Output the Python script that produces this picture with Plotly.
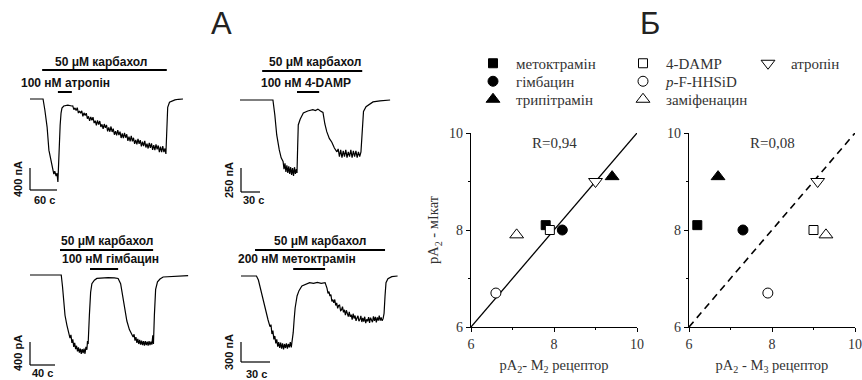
import plotly.graph_objects as go

W, H = 862, 380

# ---------------- Panel A: membrane current traces (time, s ; current, pA) -------------
atr_t = [0, 29, 33, 38, 42, 47, 51, 53, 55, 58, 60, 62, 63, 64, 67, 69, 71, 75, 84, 93,
         95, 97.5, 100, 102.5, 105, 107.5, 110, 112.5, 115, 117.5,
         120, 122.5, 125, 127.5, 130, 132.5, 135, 137.5, 140, 142.5,
         145, 147.5, 150, 152.5, 155, 157.5, 160, 162.5, 165, 167.5,
         170, 172.5, 175, 177.5, 180, 182.5, 185, 187.5, 190, 192.5,
         195, 197.5, 200, 202.5, 205, 207.5, 210, 212.5, 215, 217.5,
         220, 222.5, 225, 227.5, 230, 232.5, 235, 237.5, 240, 242.5,
         245, 247.5, 250, 252.5, 255, 257.5, 260, 262.5, 265, 267.5,
         270, 272.5, 275, 277.5, 280, 282.5, 285, 287.5, 290, 292.5,
         295, 297.5, 300,
         302, 304, 306, 310, 315, 322, 330, 340]
atr_i = [0, 0, -200, -510, -930, -1165, -1290, -1365, -1310, -1400, -1350, -1510, -1290, -930,
         -475, -255, -165, -127, -110, -127,
         -125, -193, -162, -210, -158, -256, -219, -257, -215, -314,
         -252, -300, -258, -357, -315, -397, -325, -387, -330, -437,
         -395, -477, -390, -467, -400, -507, -460, -545, -455, -525,
         -470, -590, -515, -595, -500, -600, -540, -650, -585, -660,
         -565, -655, -595, -709, -627, -711, -615, -704, -642, -761,
         -685, -769, -672, -771, -705, -814, -742, -826, -725, -817,
         -748, -860, -777, -858, -760, -882, -813, -900, -797, -888,
         -805, -926, -837, -928, -823, -914, -845, -966, -867, -968,
         -858, -964, -900,
         -1000, -600, -150, -60, -35, -15, -5, 0]

damp_t = [0, 52, 55, 58, 62, 65, 68, 69.5, 71, 72.5, 74, 75.5, 77, 78.5, 80, 81.5, 83, 84.5,
          86, 87.5, 89, 90, 91, 92, 95, 100, 107, 115, 119, 123, 127, 131, 134, 137, 141, 145,
          149, 153, 155, 157, 159, 161, 163, 165, 167, 169, 171, 173, 175, 177, 179, 181, 183,
          185, 187, 189, 191, 193, 195, 199, 205, 210, 221, 237]
damp_i = [0, 0, -156, -364, -520, -603, -640, -720, -660, -750, -680, -760, -690, -770, -700,
          -780, -710, -790, -700, -770, -720, -760, -500, -260, -200, -135, -115, -100, -110,
          -95, -115, -130, -250, -330, -400, -440, -500, -540, -510, -590, -520, -600, -530,
          -590, -520, -600, -540, -590, -520, -600, -530, -590, -530, -600, -540, -590, -540,
          -300, -120, -70, -40, -20, -10, 0]

himb_t = [0, 50, 52, 54, 56, 59, 62, 64, 65.5, 67, 68.5, 70, 71.5, 73, 74.5, 76, 77.5, 79,
          80.5, 82, 83.5, 85, 86.5, 88, 89.5, 91, 92, 93, 95, 97, 99, 103, 107, 115, 125, 135,
          141, 145, 149, 152, 155, 159, 162, 165, 166.5, 168, 169.5, 171, 172.5, 174, 175.5,
          177, 178.5, 180, 181.5, 183, 184.5, 186, 187.5, 189, 190.5, 192, 193.5, 195, 196.5,
          197.5, 199, 201, 204, 208, 213, 230, 253]
himb_i = [0, 0, -200, -500, -700, -870, -1000, -1096, -1040, -1180, -1120, -1250, -1180, -1290,
          -1230, -1330, -1260, -1350, -1280, -1370, -1290, -1360, -1280, -1370, -1250, -1300,
          -1150, -1200, -700, -300, -150, -90, -60, -50, -45, -50, -60, -150, -400, -620, -800,
          -950, -1010, -1080, -1030, -1140, -1080, -1180, -1110, -1200, -1130, -1210, -1140,
          -1220, -1150, -1230, -1150, -1220, -1160, -1230, -1150, -1220, -1160, -1210, -1050,
          -1200, -700, -250, -120, -70, -35, -20, -10]

meto_t = [0, 16, 18, 20, 22, 24, 26, 28, 30, 31, 32, 33, 34, 35, 36, 37, 38, 39, 40, 41, 42,
          43, 44, 45, 46, 47, 48, 49, 50, 51, 52, 53, 54, 55, 56, 58, 60, 63, 67, 71, 75, 79,
          83, 87,
          89, 90, 91, 92, 93, 94, 95, 96, 97, 98, 99, 100, 101, 102, 103, 104, 105, 106, 107,
          108, 109, 110, 111, 112, 113, 114, 115, 116, 117, 118, 119, 120, 121, 122, 123, 124,
          125, 126, 127, 128, 129, 130, 131, 132, 133, 134, 135, 136, 137, 138, 139, 140, 141,
          142, 143, 144, 145, 146,
          147, 148, 149, 150, 152, 156, 162]
meto_i = [0, 0, -60, -180, -330, -420, -560, -660, -760, -730, -870, -820, -950, -900, -1010,
          -950, -1060, -990, -1080, -1000, -1090, -1010, -1100, -1020, -1080, -1010, -1090,
          -1020, -1070, -990, -1070, -980, -850, -650, -480, -300, -220, -150, -120, -100, -110,
          -95, -110, -100,
          -185, -260, -235, -300, -280, -380, -355, -401, -352, -443, -404, -485, -443, -436,
          -519, -507, -460, -546, -507, -588, -514, -565, -609, -538, -612, -581, -655, -566,
          -637, -593, -674, -630, -598, -676, -654, -597, -690, -627, -684, -611, -708, -650,
          -679, -618, -702, -626, -670, -693, -606, -674, -612, -695, -622, -669, -596, -668,
          -620, -673,
          -640, -560, -300, -100, -40, -10, 0]

# drug application periods (s): carbachol and antagonist
carb_on = [27, 35, 48, 14.5]
carb_off = [304, 193, 197, 149]
antag_on = [62, 90, 96, 54]
antag_off = [93, 125, 141, 87]
carb_label = ["50 μM карбахол"] * 4
antag_label = ["100 нМ атропін", "100 нМ 4-DAMP", "100 нМ гімбацин", "200 нМ метоктрамін"]

# scale bars
scale_t = [60, 30, 40, 30]
scale_i = [400, 250, 400, 300]
scale_t_label = ["60 с", "30 с", "40 с", "30 с"]
scale_i_label = ["400 пА", "250 пА", "400 pA", "300 пА"]

# ---------------- Panel Б: pA2 values ----------------
drugs = ["метоктрамін", "гімбацин", "трипітрамін", "4-DAMP", "<i>p</i>-F-HHSiD",
         "заміфенацин", "атропін"]
pa2_m2 = [7.8, 8.2, 9.4, 7.9, 6.6, 7.1, 9.0]
pa2_m3 = [6.2, 7.3, 6.7, 9.0, 7.9, 9.3, 9.1]
pa2_mcat = [8.1, 8.0, 9.1, 8.0, 6.7, 7.9, 9.0]
fit_x = [6, 10]
fit_y = [6, 10]
r_values = ["R=0,94", "R=0,08"]
x_titles = ["pA<sub>2</sub>- M<sub>2</sub> рецептор", "pA<sub>2</sub> - M<sub>3</sub> рецептор"]
y_title = "pA<sub>2</sub> - мІкат"

# ---------------- styles / layout ----------------
SANS = "Liberation Sans, Arial, sans-serif"
SERIF = "Liberation Serif, Times New Roman, serif"

def pxx(x):
    return x / W

def pxy(y):
    return 1 - y / H

fig = go.Figure()

traces = [(atr_t, atr_i), (damp_t, damp_i), (himb_t, himb_i), (meto_t, meto_i)]
# pixel geometry of each trace panel: domain box, pixel of (t=0, I=0), s/px, pA/px
geom = [
    dict(xd=(10, 195), yd=(55, 210), x0=30, y0=99, spp=60 / 27, ppp=400 / 22,
         carb_y=70, ant_y=92, carb_lbl=(101, 62), ant_lbl=(65, 83),
         sb=(30, 190), sbi_lbl=(18, 179), sbt_lbl=(44, 200)),
    dict(xd=(225, 400), yd=(55, 210), x0=240, y0=100, spp=30 / 19, ppp=250 / 24,
         carb_y=71, ant_y=92, carb_lbl=(315, 62), ant_lbl=(306, 83),
         sb=(241, 192), sbi_lbl=(229, 180), sbt_lbl=(254, 200)),
    dict(xd=(10, 195), yd=(232, 380), x0=30, y0=275, spp=40 / 25, ppp=400 / 23,
         carb_y=250, ant_y=269, carb_lbl=(107, 241), ant_lbl=(110, 259),
         sb=(30, 365), sbi_lbl=(18, 353), sbt_lbl=(42, 373)),
    dict(xd=(225, 400), yd=(232, 380), x0=241, y0=276, spp=30 / 29, ppp=15,
         carb_y=250, ant_y=269, carb_lbl=(320, 241), ant_lbl=(297, 259),
         sb=(241, 362), sbi_lbl=(229, 352), sbt_lbl=(256, 374)),
]

shapes = []
annotations = []
layout_axes = {}


def ann(text, x, y, font, angle=0):
    annotations.append(dict(text=text, x=pxx(x), y=pxy(y), xref="paper", yref="paper",
                            showarrow=False, font=font, textangle=angle,
                            xanchor="center", yanchor="middle"))


for k, ((t, cur), g) in enumerate(zip(traces, geom)):
    n = k + 1
    xa = "x" if n == 1 else f"x{n}"
    ya = "y" if n == 1 else f"y{n}"
    t_lo = (g["xd"][0] - g["x0"]) * g["spp"]
    t_hi = (g["xd"][1] - g["x0"]) * g["spp"]
    i_lo = (g["y0"] - g["yd"][1]) * g["ppp"]
    i_hi = (g["y0"] - g["yd"][0]) * g["ppp"]
    layout_axes["xaxis" if n == 1 else f"xaxis{n}"] = dict(
        domain=[pxx(g["xd"][0]), pxx(g["xd"][1])], range=[t_lo, t_hi], visible=False,
        anchor=ya, automargin=False)
    layout_axes["yaxis" if n == 1 else f"yaxis{n}"] = dict(
        domain=[pxy(g["yd"][1]), pxy(g["yd"][0])], range=[i_lo, i_hi], visible=False,
        anchor=xa, automargin=False)
    fig.add_trace(go.Scatter(x=t, y=cur, mode="lines", xaxis=xa, yaxis=ya,
                             line=dict(color="black", width=1.2), showlegend=False,
                             hoverinfo="skip"))
    # application bars
    shapes.append(dict(type="line", xref=xa, yref="paper", x0=carb_on[k], x1=carb_off[k],
                       y0=pxy(g["carb_y"]), y1=pxy(g["carb_y"]),
                       line=dict(color="black", width=2)))
    shapes.append(dict(type="line", xref=xa, yref="paper", x0=antag_on[k], x1=antag_off[k],
                       y0=pxy(g["ant_y"]), y1=pxy(g["ant_y"]),
                       line=dict(color="black", width=2)))
    # scale bars
    st0 = (g["sb"][0] - g["x0"]) * g["spp"]
    si0 = (g["y0"] - g["sb"][1]) * g["ppp"]
    shapes.append(dict(type="line", xref=xa, yref=ya, x0=st0, x1=st0 + scale_t[k],
                       y0=si0, y1=si0, line=dict(color="black", width=1.2)))
    shapes.append(dict(type="line", xref=xa, yref=ya, x0=st0, x1=st0,
                       y0=si0, y1=si0 + scale_i[k], line=dict(color="black", width=1.2)))
    bold = dict(family=SANS, size=12, color="#111")
    small = dict(family=SANS, size=11, color="#111")
    ann("<b>" + carb_label[k] + "</b>", *g["carb_lbl"], bold)
    ann("<b>" + antag_label[k] + "</b>", *g["ant_lbl"], bold)
    ann("<b>" + scale_i_label[k] + "</b>", *g["sbi_lbl"], small, angle=-90)
    ann("<b>" + scale_t_label[k] + "</b>", *g["sbt_lbl"], small)

# ---- scatter panels ----
symbols = ["square", "circle", "triangle-up", "square", "circle", "triangle-up", "triangle-down"]
fills = ["black", "black", "black", "white", "white", "white", "white"]
sizes = [9, 10, 12, 9, 10, 12, 12]
# legend key positions (marker centre, px)
legend_pos = [(495, 65), (495, 83), (495, 101), (645, 65), (645, 83), (645, 101), (770, 65)]
legend_names = ["legend"] + [f"legend{i}" for i in range(2, 8)]

sc_boxes = [((471, 637), (133, 327)), ((689, 855), (133, 327))]
for j, (xs, (xd, yd)) in enumerate(zip([pa2_m2, pa2_m3], sc_boxes)):
    n = 5 + j
    xa, ya = f"x{n}", f"y{n}"
    fig.add_trace(go.Scatter(x=fit_x, y=fit_y, mode="lines", xaxis=xa, yaxis=ya,
                             line=dict(color="black", width=1.3 if j == 0 else 1.6,
                                       dash="solid" if j == 0 else "7px,5px"),
                             showlegend=False, hoverinfo="skip"))
    for d in range(len(drugs)):
        fig.add_trace(go.Scatter(
            x=[xs[d]], y=[pa2_mcat[d]], mode="markers", xaxis=xa, yaxis=ya,
            name=drugs[d], legendgroup=drugs[d], showlegend=(j == 0),
            legend=legend_names[d],
            marker=dict(symbol=symbols[d], size=sizes[d], color=fills[d],
                        line=dict(color="black", width=1))))
    ax_common = dict(range=[6, 10], tickvals=[6, 8, 10], ticks="outside", ticklen=4,
                     tickwidth=1.2, tickcolor="black", showline=True, linecolor="black",
                     linewidth=1.3, showgrid=False, zeroline=False, automargin=False,
                     minor=dict(tickvals=[7, 9], ticks="outside", ticklen=2, tickcolor="black"),
                     tickfont=dict(family=SERIF, size=14, color="#333"))
    layout_axes[f"xaxis{n}"] = dict(ax_common, domain=[pxx(xd[0]), pxx(xd[1])], anchor=ya,
                                    title=dict(text=x_titles[j],
                                               font=dict(family=SERIF, size=14.5, color="#333"),
                                               standoff=8))
    layout_axes[f"yaxis{n}"] = dict(ax_common, domain=[pxy(yd[1]), pxy(yd[0])], anchor=xa)
    if j == 0:
        layout_axes[f"yaxis{n}"]["title"] = dict(text=y_title,
                                                 font=dict(family=SERIF, size=14.5, color="#333"),
                                                 standoff=6)
    ann(r_values[j], xd[0] + 83, 143, dict(family=SERIF, size=15, color="#333"))

# panel letters
ann("А", 221, 24, dict(family=SANS, size=31, color="#222"))
ann("Б", 650, 24, dict(family=SANS, size=31, color="#222"))

legends = {}
for name, (mx, my) in zip(legend_names, legend_pos):
    legends[name] = dict(x=pxx(mx - 25), y=pxy(my - 18), xanchor="left", yanchor="top",
                         bgcolor="rgba(0,0,0,0)", itemwidth=36,
                         font=dict(family=SERIF, size=15, color="#333"),
                         itemclick=False, itemdoubleclick=False)

fig.update_layout(
    width=W, height=H, margin=dict(l=0, r=0, t=0, b=0, autoexpand=False),
    paper_bgcolor="white", plot_bgcolor="rgba(0,0,0,0)",
    shapes=shapes, annotations=annotations,
    **legends,
    **layout_axes,
)

fig.write_html("out.html", config={"displayModeBar": False},
               post_script="document.body.style.margin='0';")
